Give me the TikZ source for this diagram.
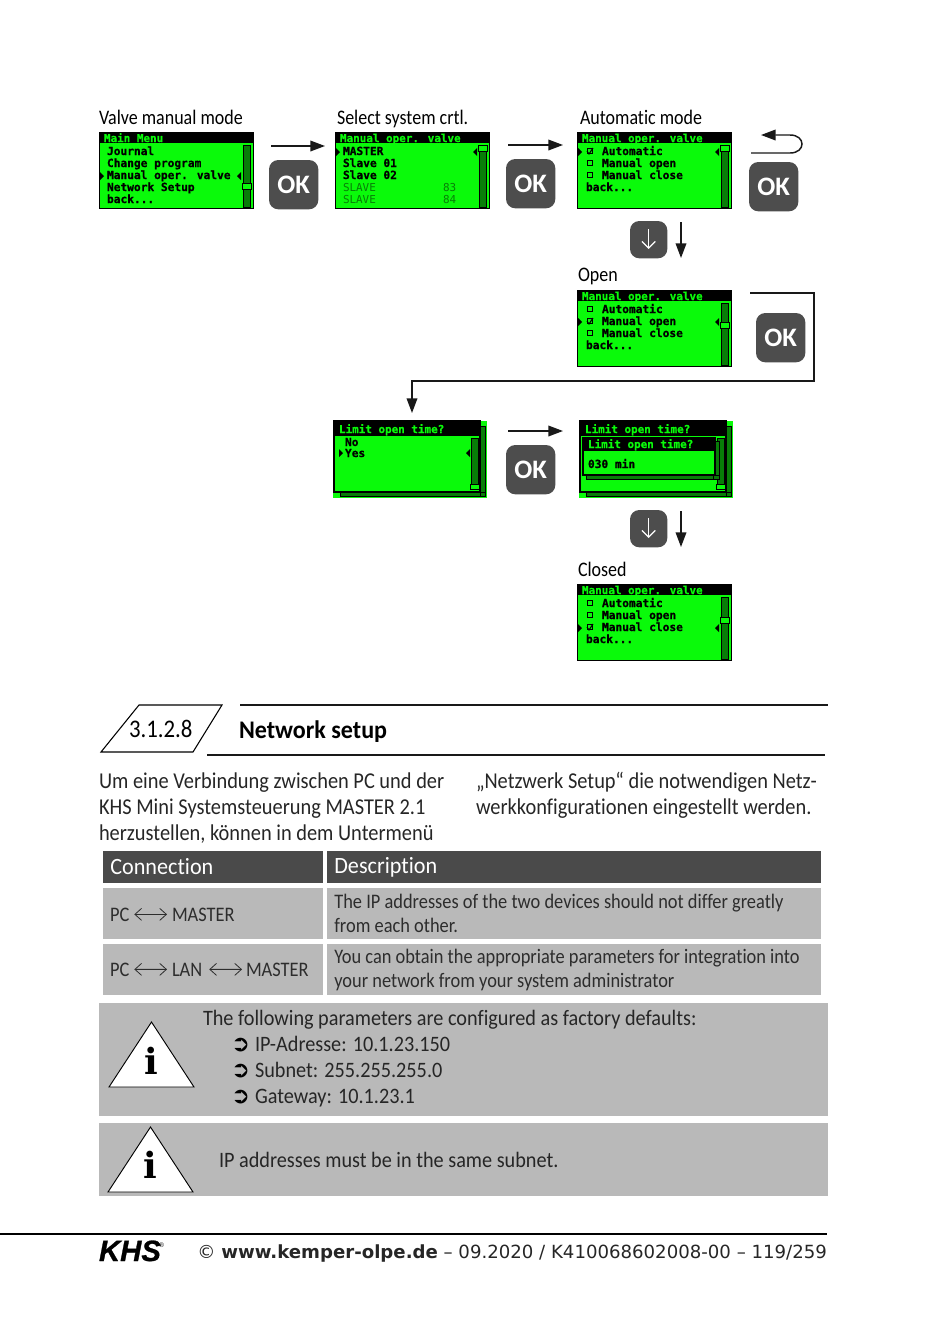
\documentclass[tikz,border=0pt]{standalone}
\usepackage{fontspec}
\usetikzlibrary{arrows.meta,calc}
\setmainfont{Carlito}
\newfontfamily\labelfont[FakeStretch=.87,Ligatures=NoCommon]{Carlito}
\newfontfamily\pagefont[FakeStretch=.90,Ligatures=NoCommon]{Carlito}
\newfontfamily\infofont[FakeStretch=.92,Ligatures=NoCommon]{Carlito}
\newfontfamily\headfont[FakeStretch=.95,Ligatures=NoCommon]{Carlito}
\newfontfamily\tablefont[FakeStretch=.89,Ligatures=NoCommon]{Carlito}
\newfontfamily\monofont[BoldFeatures={FakeBold=.5}]{DejaVu Sans Mono}
\newfontfamily\symbfont{DejaVu Sans}
\newfontfamily\slabfont{DejaVu Serif}
\newfontfamily\logofont[BoldItalicFeatures={FakeBold=1}]{Liberation Sans}
\newcommand{\fsize}[2]{\fontsize{#1}{#2}\selectfont}
\definecolor{lcdgreen}{RGB}{10,250,10}
\definecolor{lcddither}{RGB}{8,125,8}
\definecolor{keygray}{RGB}{77,77,77}
\definecolor{headgray}{RGB}{74,74,74}
\definecolor{cellgray}{RGB}{185,185,185}
\definecolor{inkgray}{RGB}{45,45,45}
\tikzset{every node/.style={inner sep=0pt,outer sep=0pt},
 flowarrow/.style={-{Triangle[length=11pt,width=8pt]},line width=1.1pt,draw=black!90},
 flowline/.style={line width=1.1pt,draw=black!90},
 okkey/.style={fill=keygray,rounded corners=7pt,minimum width=37pt,minimum height=37pt,text=white,font=\fsize{20}{20}\bfseries,anchor=north west},
 downkey/.style={fill=keygray,rounded corners=7pt,minimum width=28pt,minimum height=28pt,anchor=north west},
 downglyph/.style={-{Straight Barb[length=5pt,width=10pt]},white,line width=.9pt},
 duplex/.style={{Straight Barb[length=5pt,width=9pt]}-{Straight Barb[length=5pt,width=9pt]},inkgray,line width=.6pt},
 lcdscreen/.style={fill=lcdgreen,draw=black,line width=.6pt,minimum width=115.5pt,minimum height=57.5pt,anchor=north west},
 lcdbar/.style={fill=black,minimum width=115.5pt,minimum height=8.5pt,anchor=north west},
 lcdtitle/.style={text=lcdgreen,font=\monofont\fsize{8.2}{8.2}\bfseries,anchor=base west},
 lcdtext/.style={text=black,font=\monofont\fsize{8.4}{8.4}\bfseries,anchor=base west},
 lcdfaint/.style={text=lcddither,font=\monofont\fsize{8.2}{8.2},anchor=base west},
 lcdbox/.style={draw=black,line width=.6pt,minimum size=3.6pt},
 labeltext/.style={font=\labelfont\fsize{15.5}{15.5},anchor=base west},
 bodytext/.style={font=\pagefont\fsize{17}{17},anchor=base west,text=black!85},
 headcell/.style={fill=headgray,text=white,anchor=north west,font=\headfont\fsize{17.5}{17.5},inner xsep=5.5pt,align=flush left,minimum height=24pt},
 rowcell/.style={fill=cellgray,text=inkgray,anchor=north west,font=\tablefont\fsize{15.5}{18},inner xsep=5.5pt,align=flush left},
 rowtext/.style={text=inkgray,font=\tablefont\fsize{15.5}{15.5},anchor=base west},
 infobox/.style={fill=cellgray,minimum width=546.5pt,anchor=north west},
 infotri/.style={fill=white,draw=black,line width=.7pt,line join=miter},
 infomark/.style={font=\slabfont\fsize{27}{27}\bfseries},
 infotext/.style={text=black!85,font=\infofont\fsize{16.5}{16.5},anchor=base west},
 bullet/.style={font=\symbfont\fsize{17}{17},anchor=base west}}
\newcommand{\lcdframe}[2]{
 \node[lcdscreen] (#1) at (0,0) {};
 \node[lcdbar] (#1bar) at (0,0) {};
 \node[lcdtitle] (#1title) at (5,10) {#2};}
\newcommand{\lcdscroll}[3]{
 \fill[lcddither,draw=black,line width=.5pt] (#1,13) rectangle (#1+7,75);
 \fill[lcdgreen,draw=black,line width=.7pt] (#1-1,#2-3) rectangle (#1+8,#2+3);
 \fill (#1-6,#3-3) -- (#1-2,#3-7) -- (#1-2,#3+1) -- cycle;}
\newcommand{\lcdmark}[1]{\fill (1,#1-7) -- (5,#1-3) -- (1,#1+1) -- cycle;}
\newcommand{\lcdtick}[1]{\draw[line width=.8pt] (10,#1-4) -- (12,#1-1) -- (16,#1-7);}
\begin{document}
\begin{tikzpicture}[x=.75pt,y=-.75pt]
\useasboundingbox (0,0) rectangle (950,1332);
\node[labeltext] (modeA) at (99,124) {Valve manual mode};
\node[labeltext] (modeB) at (337,124) {Select system crtl.};
\node[labeltext] (modeC) at (580,124) {Automatic mode};
\node[labeltext] (modeD) at (578,281) {Open};
\node[labeltext] (modeE) at (578,576) {Closed};
\begin{scope}[shift={(99,132)}]
\lcdframe{mainmenu}{Main Menu}
\node[lcdtext] (mainA) at (8,23) {Journal};
\node[lcdtext] (mainB) at (8,35) {Change program};
\node[lcdtext] (mainC) at (8,47) {Manual oper. valve};
\node[lcdtext] (mainD) at (8,59) {Network Setup};
\node[lcdtext] (mainE) at (8,71) {back...};
\lcdmark{47}
\lcdscroll{144}{54}{47}
\end{scope}
\begin{scope}[shift={(335,132)}]
\lcdframe{system}{Manual oper. valve}
\node[lcdtext] (sysA) at (8,23) {MASTER};
\node[lcdtext] (sysB) at (8,35) {Slave 01};
\node[lcdtext] (sysC) at (8,47) {Slave 02};
\node[lcdfaint] (sysD) at (8,59) {SLAVE};
\node[lcdfaint] (sysE) at (8,71) {SLAVE};
\node[lcdfaint] (sysF) at (108,59) {83};
\node[lcdfaint] (sysG) at (108,71) {84};
\lcdmark{23}
\lcdscroll{144}{16}{23}
\end{scope}
\begin{scope}[shift={(577,132)}]
\lcdframe{automatic}{Manual oper. valve}
\node[lcdbox] (autoboxA) at (13,19) {};
\node[lcdbox] (autoboxB) at (13,31) {};
\node[lcdbox] (autoboxC) at (13,43) {};
\node[lcdtext] (autoA) at (25,23) {Automatic};
\node[lcdtext] (autoB) at (25,35) {Manual open};
\node[lcdtext] (autoC) at (25,47) {Manual close};
\node[lcdtext] (autoD) at (9,59) {back...};
\lcdtick{23}
\lcdmark{23}
\lcdscroll{144}{16}{23}
\end{scope}
\begin{scope}[shift={(577,290)}]
\lcdframe{open}{Manual oper. valve}
\node[lcdbox] (openboxA) at (13,19) {};
\node[lcdbox] (openboxB) at (13,31) {};
\node[lcdbox] (openboxC) at (13,43) {};
\node[lcdtext] (openA) at (25,23) {Automatic};
\node[lcdtext] (openB) at (25,35) {Manual open};
\node[lcdtext] (openC) at (25,47) {Manual close};
\node[lcdtext] (openD) at (9,59) {back...};
\lcdtick{35}
\lcdmark{35}
\lcdscroll{144}{35}{35}
\end{scope}
\begin{scope}[shift={(577,584)}]
\lcdframe{closed}{Manual oper. valve}
\node[lcdbox] (closedboxA) at (13,19) {};
\node[lcdbox] (closedboxB) at (13,31) {};
\node[lcdbox] (closedboxC) at (13,43) {};
\node[lcdtext] (closedA) at (25,23) {Automatic};
\node[lcdtext] (closedB) at (25,35) {Manual open};
\node[lcdtext] (closedC) at (25,47) {Manual close};
\node[lcdtext] (closedD) at (9,59) {back...};
\lcdtick{47}
\lcdmark{47}
\lcdscroll{144}{36}{47}
\end{scope}
\begin{scope}[shift={(333,421)}]
\fill[lcdgreen] (0,0) rectangle (154,77);
\fill[lcddither,draw=black,line width=.4pt] (147,5) rectangle (152,75) (7,71) rectangle (152,75);
\fill[lcdgreen,draw=black,line width=.8pt] (1,0) rectangle (147,71);
\fill (1,0) rectangle (147,15);
\node[lcdtitle] (limitA) at (6,12) {Limit open time?};
\node[lcdtext] (limitB) at (12,25) {No};
\node[lcdtext] (limitC) at (12,36) {Yes};
\fill (6,28) -- (10,32) -- (6,36) -- cycle;
\fill[lcddither,draw=black,line width=.5pt] (138,17) rectangle (145,68);
\fill[lcdgreen,draw=black,line width=.7pt] (137,63) rectangle (146,68);
\fill (133,32) -- (137,28) -- (137,36) -- cycle;
\end{scope}
\begin{scope}[shift={(579,421)}]
\fill[lcdgreen] (0,0) rectangle (154,77);
\fill[lcddither,draw=black,line width=.4pt] (147,5) rectangle (152,75) (7,71) rectangle (152,75);
\fill[lcdgreen,draw=black,line width=.8pt] (1,0) rectangle (147,71);
\fill (1,0) rectangle (147,15);
\node[lcdtitle] (timeA) at (6,12) {Limit open time?};
\fill[lcddither,draw=black,line width=.5pt] (138,17) rectangle (145,68);
\fill[lcdgreen,draw=black,line width=.7pt] (137,63) rectangle (146,68);
\fill[lcddither,draw=black,line width=.4pt] (134,20) rectangle (140,58) (7,54) rectangle (140,58);
\fill[lcdgreen,draw=black,line width=.8pt] (4,17) rectangle (136,54);
\fill (4,17) rectangle (136,30);
\node[lcdtitle] (timeB) at (9,27) {Limit open time?};
\node[lcdtext] (timeC) at (9,47) {030 min};
\end{scope}
\node[okkey] (okA) at (269,160) {OK};
\node[okkey] (okB) at (506,159) {OK};
\node[okkey] (okC) at (749,162) {OK};
\node[okkey] (okD) at (756,313) {OK};
\node[okkey] (okE) at (506,445) {OK};
\node[downkey] (downA) at (630,221) {};
\node[downkey] (downB) at (630,510) {};
\draw[downglyph] ([yshift=8pt]downA.center) -- ([yshift=-7pt]downA.center);
\draw[downglyph] ([yshift=8pt]downB.center) -- ([yshift=-7pt]downB.center);
\coordinate (goA) at (271,146);
\coordinate (goAend) at (325,146);
\coordinate (goB) at (508,145);
\coordinate (goBend) at (563,145);
\coordinate (goC) at (508,431);
\coordinate (goCend) at (563,431);
\coordinate (backA) at (751,153);
\coordinate (backB) at (761,135);
\coordinate (fallA) at (681,222);
\coordinate (fallAend) at (681,258);
\coordinate (fallB) at (681,511);
\coordinate (fallBend) at (681,547);
\coordinate (wrapA) at (750,293);
\coordinate (wrapB) at (412,413);
\draw[flowarrow] (goA) -- (goAend);
\draw[flowarrow] (goB) -- (goBend);
\draw[flowarrow] (goC) -- (goCend);
\draw[flowarrow] (fallA) -- (fallAend);
\draw[flowarrow] (fallB) -- (fallBend);
\draw[flowarrow] (backA) -- (790,153) .. controls (806,153) and (806,135) .. (790,135) -- (backB);
\draw[flowarrow] (wrapA) -- (814,293) -- (814,381) -- (412,381) -- (wrapB);
\draw[line width=.8pt] (139,705) -- (222,705) -- (193,752) -- (101,752) -- cycle;
\node[font=\pagefont\fsize{19}{19},anchor=base west] (secnum) at (129,737) {3.1.2.8};
\node[font=\headfont\fsize{19}{19}\bfseries,anchor=base west] (sectitle) at (239,738) {Network setup};
\coordinate (ruleA) at (240,705);
\coordinate (ruleAend) at (828,705);
\coordinate (ruleB) at (207,755);
\coordinate (ruleBend) at (825,755);
\draw[flowline] (ruleA) -- (ruleAend);
\draw[flowline] (ruleB) -- (ruleBend);
\node[bodytext] (paraA) at (99,788) {Um eine Verbindung zwischen PC und der};
\node[bodytext] (paraB) at (99,814) {KHS Mini Systemsteuerung MASTER 2.1};
\node[bodytext] (paraC) at (99,840) {herzustellen, können in dem Untermenü};
\node[bodytext] (paraD) at (476,788) {„Netzwerk Setup“ die notwendigen Netz-};
\node[bodytext] (paraE) at (476,814) {werkkonfigurationen eingestellt werden.};
\node[headcell,text width=154pt] (headA) at (103,851) {Connection};
\node[headcell,text width=359.5pt] (headB) at (327,851) {Description};
\node[rowcell,minimum width=165pt,minimum height=38.25pt] (cellA) at (103,888) {};
\node[rowcell,text width=359.5pt,minimum height=38.25pt] (cellB) at (327,888) {The IP addresses of the two devices should not differ greatly\\from each other.};
\node[rowcell,minimum width=165pt,minimum height=38.25pt] (cellC) at (103,944) {};
\node[rowcell,text width=359.5pt,minimum height=38.25pt] (cellD) at (327,944) {You can obtain the appropriate parameters for integration into\\your network from your system administrator};
\node[rowtext] (pcA) at (110,921) {PC};
\node[rowtext] (masterA) at (172,921) {MASTER};
\draw[duplex] (pcA.east) ++(5,0) -- ($(masterA.west)+(-5,0)$);
\node[rowtext] (pcB) at (110,976) {PC};
\node[rowtext] (lanB) at (172,976) {LAN};
\node[rowtext] (masterB) at (246,976) {MASTER};
\draw[duplex] (pcB.east) ++(5,0) -- ($(lanB.west)+(-5,0)$);
\draw[duplex] (lanB.east) ++(7,0) -- ($(masterB.west)+(-4,0)$);
\node[infobox,minimum height=84.75pt] (infoA) at (99,1003) {};
\node[infobox,minimum height=54.75pt] (infoB) at (99,1123) {};
\draw[infotri] (151.5,1022) -- (194,1087) -- (109,1087) -- cycle;
\draw[infotri] (150.5,1127) -- (193,1192) -- (108,1192) -- cycle;
\node[infomark] (markA) at (151.5,1061) {i};
\node[infomark] (markB) at (150.5,1165) {i};
\node[infotext] (factory) at (203,1025) {The following parameters are configured as factory defaults:};
\node[bullet] (bulA) at (231,1051) {➲};
\node[bullet] (bulB) at (231,1077) {➲};
\node[bullet] (bulC) at (231,1103) {➲};
\node[infotext] (itemA) at (255,1051) {IP-Adresse: 10.1.23.150};
\node[infotext] (itemB) at (255,1077) {Subnet: 255.255.255.0};
\node[infotext] (itemC) at (255,1103) {Gateway: 10.1.23.1};
\node[infotext] (subnet) at (219,1167) {IP addresses must be in the same subnet.};
\coordinate (footA) at (0,1234);
\coordinate (footB) at (827,1234);
\draw[line width=1.5pt] (footA) -- (footB);
\node[font=\logofont\fsize{22}{22}\bfseries\itshape,anchor=base west] (logo) at (99,1261) {KHS};
\node[font=\logofont\fsize{5}{5},anchor=base west] (logoreg) at (159,1247) {®};
\node[font=\symbfont\fsize{13.6}{13.6},anchor=base east,text=black!85] (footer) at (827,1258) {© \textbf{www.kemper-olpe.de} – 09.2020 / K410068602008-00 – 119/259};
\end{tikzpicture}
\end{document}
